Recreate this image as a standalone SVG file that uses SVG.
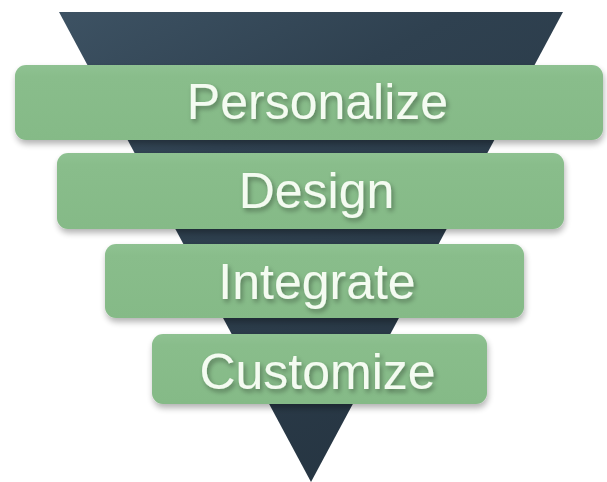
<svg xmlns="http://www.w3.org/2000/svg" width="607" height="482" viewBox="0 0 607 482">
  <defs>
    <linearGradient id="funnelGrad" x1="0" y1="0" x2="0.6" y2="1">
      <stop offset="0" stop-color="#3d5263"/>
      <stop offset="0.35" stop-color="#2f4150"/>
      <stop offset="1" stop-color="#263542"/>
    </linearGradient>
    <linearGradient id="barGrad" x1="0" y1="0" x2="0" y2="1">
      <stop offset="0" stop-color="#8fc292"/>
      <stop offset="0.15" stop-color="#89bd8b"/>
      <stop offset="1" stop-color="#85ba87"/>
    </linearGradient>
    <filter id="barShadow" x="-5%" y="-20%" width="110%" height="150%">
      <feGaussianBlur in="SourceAlpha" stdDeviation="3"/>
      <feOffset dx="1" dy="4" result="b"/>
      <feComponentTransfer><feFuncA type="linear" slope="0.3"/></feComponentTransfer>
      <feMerge><feMergeNode/><feMergeNode in="SourceGraphic"/></feMerge>
    </filter>
    <filter id="textShadow" x="-10%" y="-30%" width="120%" height="160%">
      <feGaussianBlur in="SourceAlpha" stdDeviation="2.5"/>
      <feOffset dx="2" dy="3" result="b"/>
      <feComponentTransfer><feFuncA type="linear" slope="0.35"/></feComponentTransfer>
      <feMerge><feMergeNode/><feMergeNode in="SourceGraphic"/></feMerge>
    </filter>
  </defs>
  <style>
    .bar { fill: url(#barGrad); filter: url(#barShadow); }
    .label { font-family: "Liberation Sans", Arial, sans-serif; font-size: 50px; fill: #f4fbf1; text-anchor: middle; filter: url(#textShadow); }
  </style>
  <rect width="607" height="482" fill="#ffffff"/>
  <g id="funnel">
    <polygon points="59,12 563,12 311,482" fill="url(#funnelGrad)"/>
  </g>
  <g id="connectors"></g>
  <g id="personalize">
    <rect class="bar" x="15" y="65" width="588" height="75" rx="11"/>
    <text class="label" x="317.5" y="119">Personalize</text>
  </g>
  <g id="design">
    <rect class="bar" x="57" y="153" width="507" height="76" rx="11"/>
    <text class="label" x="316.5" y="208">Design</text>
  </g>
  <g id="integrate">
    <rect class="bar" x="105" y="244" width="419" height="74" rx="11"/>
    <text class="label" x="317" y="299">Integrate</text>
  </g>
  <g id="customize">
    <rect class="bar" x="152" y="334" width="335" height="70" rx="11"/>
    <text class="label" x="317.5" y="389">Customize</text>
  </g>
</svg>
